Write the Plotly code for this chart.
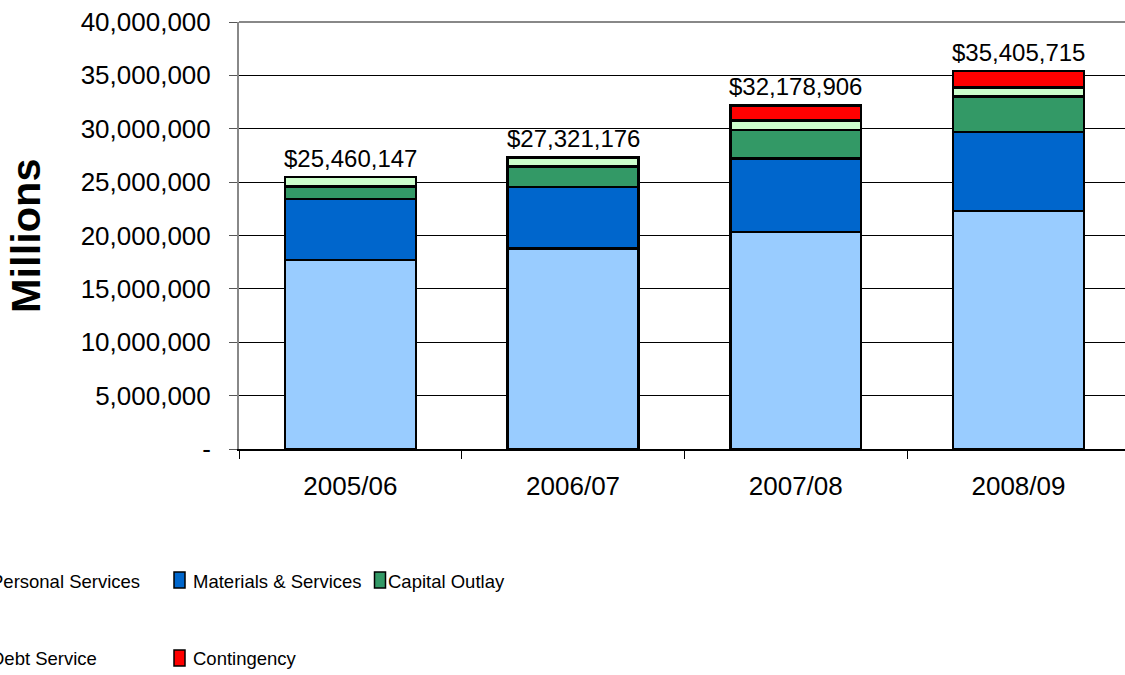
import plotly.graph_objects as go

# ---- data ----
years = ["2005/06", "2006/07", "2007/08", "2008/09"]
personal_services = [17700000, 18800000, 20350000, 22310000]
materials_services = [5700000, 5750000, 6850000, 7370000]
capital_outlay = [1200000, 1930000, 2700000, 3320000]
debt_service = [860147, 841176, 870000, 870000]
contingency = [0, 0, 1408906, 1535715]

series_names = ["Personal Services", "Materials & Services", "Capital Outlay",
                "Debt Service", "Contingency"]
series_values = [personal_services, materials_services, capital_outlay,
                 debt_service, contingency]
series_colors = ["#99CCFF", "#0066CC", "#339966", "#CCFFCC", "#FF0000"]

y_tickvals = [0, 5000000, 10000000, 15000000, 20000000, 25000000,
              30000000, 35000000, 40000000]
y_ticktext = ["-", "5,000,000", "10,000,000", "15,000,000", "20,000,000",
              "25,000,000", "30,000,000", "35,000,000", "40,000,000"]

totals = [sum(v) for v in zip(*series_values)]
total_labels = ["${:,}".format(t) for t in totals]

# ---- layout constants (pixels) ----
FW, FH = 1125, 675
L, R, T, B = 239, 0, 22, 226
PW, PH = FW - L - R, FH - T - B
CAT_PX = 222.7

def px_x(px):
    return (px - L) / PW

def px_y(py):
    return (FH - B - py) / PH

FONT = "Liberation Sans, Arial, sans-serif"

fig = go.Figure()
for name, vals, col in zip(series_names, series_values, series_colors):
    fig.add_trace(go.Bar(
        x=years, y=vals, name=name,
        marker=dict(color=col, line=dict(color="black", width=2.5)),
        width=0.588, showlegend=False,
    ))

annotations = []
for yr, tot, lab in zip(years, totals, total_labels):
    annotations.append(dict(
        x=yr, y=tot, xref="x", yref="y", text=lab, showarrow=False,
        yanchor="bottom", xanchor="center", yshift=3,
        font=dict(family=FONT, size=24, color="black"),
    ))

# y-axis title
annotations.append(dict(
    x=px_x(25), y=px_y(236), xref="paper", yref="paper", text="<b>Millions</b>",
    textangle=-90, showarrow=False, xanchor="center", yanchor="middle",
    font=dict(family=FONT, size=41.5, color="black"),
))

# custom legend (cropped on the left as in the reference)
legend_items = [
    # series index, square left px, square top px, text anchor px, anchor side, row center
    (0, -34, 572, 142, "right", 581),
    (1, 174, 572, 190.5, "left", 581),
    (2, 374.5, 572, 386, "left", 581),
    (3, -34, 650, 98.5, "right", 658),
    (4, 174, 650, 190.5, "left", 658),
]
shapes = []
for idx, sqx, sqy, tx, side, cy in legend_items:
    shapes.append(dict(
        type="rect", xref="paper", yref="paper",
        x0=px_x(sqx), x1=px_x(sqx + 11), y0=px_y(sqy + 16), y1=px_y(sqy),
        fillcolor=series_colors[idx], line=dict(color="black", width=1.5),
    ))
    annotations.append(dict(
        x=px_x(tx), y=px_y(cy), xref="paper", yref="paper",
        text=series_names[idx], showarrow=False, xanchor=side, yanchor="middle",
        font=dict(family=FONT, size=18.5, color="black"),
    ))

# top border of plot area
shapes.append(dict(type="line", xref="paper", yref="paper", x0=0, x1=1, y0=1, y1=1,
                   line=dict(color="#888888", width=2)))

fig.update_layout(
    width=FW, height=FH,
    margin=dict(l=L, r=R, t=T, b=B, autoexpand=False),
    barmode="stack",
    plot_bgcolor="white", paper_bgcolor="white",
    showlegend=False,
    annotations=annotations,
    shapes=shapes,
    xaxis=dict(
        type="category", range=[-0.5, -0.5 + PW / CAT_PX],
        tickson="boundaries", ticks="outside", ticklen=8, tickcolor="black",
        tickwidth=1,
        showline=True, linecolor="black", linewidth=2,
        showgrid=False, tickfont=dict(family=FONT, size=26, color="black"),
        ticklabelstandoff=13,
    ),
    yaxis=dict(
        range=[0, 40000000], tickvals=y_tickvals, ticktext=y_ticktext,
        ticks="outside", ticklen=8, tickcolor="#555555", tickwidth=1,
        showline=True, linecolor="#888888", linewidth=2,
        showgrid=True, gridcolor="black", gridwidth=1, zeroline=False,
        tickfont=dict(family=FONT, size=26, color="black"),
        ticklabelstandoff=13,
    ),
)

fig.write_html("out.html", config={"displayModeBar": False},
               post_script="document.body.style.margin='0px';document.body.style.overflow='hidden';")
